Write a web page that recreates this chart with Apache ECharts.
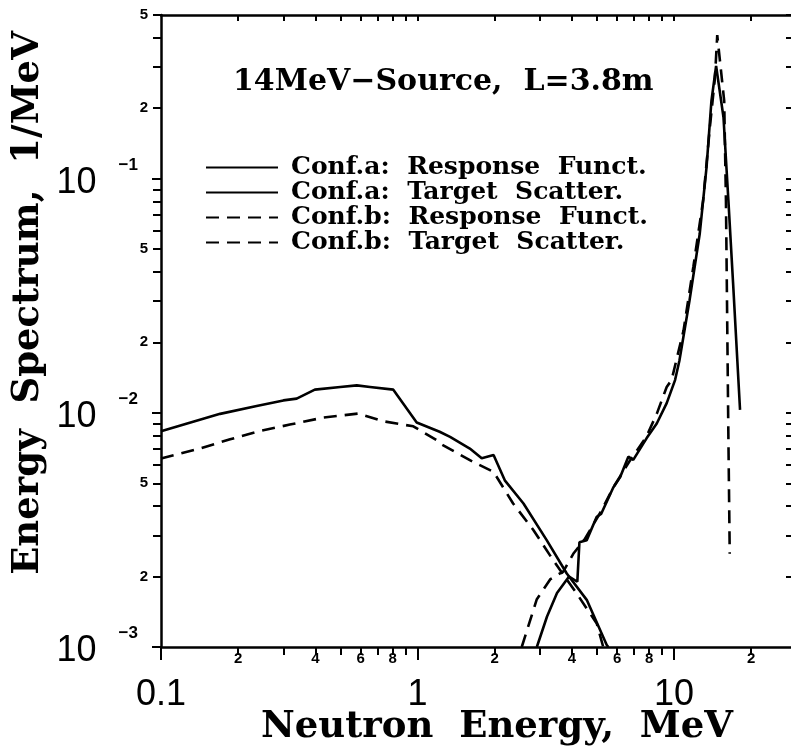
<!DOCTYPE html>
<html>
<head>
<meta charset="utf-8">
<style>
  html, body { margin: 0; padding: 0; background: #fff; }
  #chart { width: 791px; height: 753px; }
</style>
<script src="https://cdn.jsdelivr.net/npm/echarts@6/dist/echarts.min.js"></script>
</head>
<body>
<div id="chart"></div>
<script>
// [energy MeV, spectrum 1/MeV]
const respA = [
  [0.1, 0.00834], [0.17, 0.0099], [0.236, 0.0107], [0.30, 0.0113], [0.338, 0.0115],
  [0.398, 0.01256], [0.5, 0.0129], [0.58, 0.0131], [0.653, 0.0129], [0.805, 0.01256],
  [0.993, 0.0091], [1.22, 0.0083], [1.34, 0.0079], [1.6, 0.00704], [1.78, 0.0064],
  [1.98, 0.0066], [2.19, 0.00515], [2.59, 0.0041], [3.19, 0.00286], [3.82, 0.00206],
  [4.57, 0.00159], [5.47, 0.00102], [5.55, 0.001]
];
const scatA = [
  [2.92, 0.001], [3.2, 0.00135], [3.5, 0.0017], [3.9, 0.002], [4.2, 0.0019],
  [4.28, 0.0028], [4.57, 0.00286], [5.0, 0.0036], [5.2, 0.0037], [5.8, 0.0048],
  [6.16, 0.0053], [6.64, 0.0065], [6.94, 0.0063], [7.83, 0.0078], [8.57, 0.009],
  [9.37, 0.011], [10.1, 0.0138], [10.5, 0.0167], [11.5, 0.0302], [12.6, 0.058],
  [13.4, 0.112], [14.0, 0.215], [14.6, 0.303], [15.6, 0.183], [16.3, 0.081],
  [17.0, 0.036], [18.1, 0.0103]
];
const respB = [
  [0.1, 0.00638], [0.142, 0.00704], [0.186, 0.00771], [0.243, 0.00836], [0.318, 0.00891],
  [0.429, 0.00954], [0.588, 0.00993], [0.736, 0.0092], [0.963, 0.00876], [1.19, 0.00763],
  [1.22, 0.0074], [1.65, 0.00617], [1.98, 0.0056], [2.36, 0.0041], [2.83, 0.00316],
  [3.38, 0.00235], [4.18, 0.00169], [5.0, 0.00126], [5.3, 0.001]
];
const scatB = [
  [2.55, 0.001], [2.92, 0.0016], [3.3, 0.00195], [3.7, 0.0021], [4.05, 0.0025],
  [4.5, 0.0029], [5.2, 0.0038], [5.8, 0.0048], [6.7, 0.0062], [7.8, 0.0079],
  [8.57, 0.0099], [9.37, 0.0129], [9.79, 0.0138], [10.9, 0.0225], [11.9, 0.042],
  [13.0, 0.081], [13.8, 0.165], [14.45, 0.27], [14.75, 0.41], [15.7, 0.215],
  [15.95, 0.08], [16.1, 0.03], [16.3, 0.008], [16.5, 0.0025]
];

const names = [
  'Conf.a:  Response  Funct.',
  'Conf.a:  Target  Scatter.',
  'Conf.b:  Response  Funct.',
  'Conf.b:  Target  Scatter.'
];

const X_MINOR = [0.2, 0.3, 0.4, 0.5, 0.6, 0.7, 0.8, 0.9, 2, 3, 4, 5, 6, 7, 8, 9, 20];
const X_MAJOR = [0.1, 1, 10];
const X_SMALL_LABELS = [0.2, 0.4, 0.6, 0.8, 2, 4, 6, 8, 20];
const Y_MINOR = [0.002, 0.003, 0.004, 0.005, 0.006, 0.007, 0.008, 0.009,
  0.02, 0.03, 0.04, 0.05, 0.06, 0.07, 0.08, 0.09, 0.2, 0.3, 0.4, 0.5];
const Y_MAJOR = [0.001, 0.01, 0.1];
const Y_SMALL_LABELS = [0.002, 0.005, 0.02, 0.05, 0.2, 0.5];

const SERIF = '"DejaVu Serif", serif';
const SANS = '"Liberation Sans", Arial, sans-serif';
const INK = '#000';

// leading digit of a log tick (2, 5, ...)
const mantissa = (v) => String(Math.round(v / Math.pow(10, Math.floor(Math.log10(v) + 1e-9))));

function xAx(extra) {
  return Object.assign({
    type: 'log', min: 0.1, max: 28.6, gridIndex: 0,
    splitLine: { show: false }, minorTick: { show: false },
    axisLine: { show: false }, axisTick: { show: false }, axisLabel: { show: false }
  }, extra);
}
function yAx(extra) {
  return Object.assign({
    type: 'log', min: 0.001, max: 0.5, gridIndex: 0,
    splitLine: { show: false }, minorTick: { show: false },
    axisLine: { show: false }, axisTick: { show: false }, axisLabel: { show: false }
  }, extra);
}

const chart = echarts.init(document.getElementById('chart'), null, { renderer: 'canvas' });

const lineOf = (name, data, dashed) => ({
  name, type: 'line', data,
  xAxisIndex: 0, yAxisIndex: 0,
  symbol: 'none', showSymbol: false,
  lineStyle: { color: INK, width: 2.6, type: dashed ? [13, 8] : 'solid' },
  itemStyle: { color: INK },
  emphasis: { disabled: true },
  z: 3
});

chart.setOption({
  animation: false,
  backgroundColor: '#fff',
  grid: { left: 161, right: 0, top: 15, bottom: 106 },
  title: {
    text: '14MeV\u2212Source,  L=3.8m',
    left: 228, top: 62,
    textStyle: { fontFamily: SERIF, fontWeight: 'bold', fontSize: 30, color: INK }
  },
  legend: {
    orient: 'vertical', left: 200, top: 150,
    itemWidth: 72, itemHeight: 14, itemGap: 0,
    data: names,
    itemStyle: { opacity: 0 },
    textStyle: {
      fontFamily: SERIF, fontWeight: 'bold', fontSize: 25, color: INK,
      lineHeight: 24, padding: [0, 0, 0, 8]
    }
  },
  graphic: [
    {
      type: 'text', x: 497, y: 727,
      style: {
        text: 'Neutron  Energy,  MeV', fill: INK,
        font: 'bold 37px ' + SERIF, align: 'center', verticalAlign: 'middle'
      }
    },
    {
      type: 'text', x: 28, y: 303, rotation: Math.PI / 2,
      style: {
        text: 'Energy  Spectrum,  1/MeV', fill: INK,
        font: 'bold 37px ' + SERIF, align: 'center', verticalAlign: 'middle'
      }
    }
  ],
  xAxis: [
    xAx({
      position: 'bottom',
      axisLine: { show: true, lineStyle: { color: INK, width: 2.5 } },
      axisTick: { show: true, customValues: X_MINOR, length: 8, lineStyle: { color: INK, width: 2 } },
      axisLabel: {
        show: true, customValues: X_SMALL_LABELS, margin: 4, formatter: mantissa,
        fontFamily: SANS, fontWeight: 'bold', fontSize: 15, color: INK
      }
    }),
    xAx({
      position: 'bottom',
      axisTick: { show: true, customValues: X_MAJOR, length: 13, lineStyle: { color: INK, width: 2 } },
      axisLabel: {
        show: true, customValues: X_MAJOR, margin: 30,
        formatter: (v) => String(v),
        fontFamily: SANS, fontSize: 36, color: INK
      }
    }),
    xAx({
      position: 'top',
      axisLine: { show: true, lineStyle: { color: INK, width: 2.5 } },
      axisTick: { show: true, inside: true, customValues: X_MINOR.concat([1, 10]), length: 6, lineStyle: { color: INK, width: 2 } }
    })
  ],
  yAxis: [
    yAx({
      position: 'left',
      axisLine: { show: true, lineStyle: { color: INK, width: 2.5 } },
      axisTick: { show: true, customValues: Y_MINOR, length: 8, lineStyle: { color: INK, width: 2 } },
      axisLabel: {
        show: true, customValues: Y_SMALL_LABELS, margin: 13, formatter: mantissa,
        fontFamily: SANS, fontWeight: 'bold', fontSize: 15, color: INK
      }
    }),
    yAx({
      position: 'left',
      axisTick: { show: true, customValues: Y_MAJOR, length: 9, lineStyle: { color: INK, width: 2 } },
      axisLabel: {
        show: true, customValues: Y_MAJOR, margin: 23,
        formatter: (v) => '{b|10}{e|\u2212' + Math.round(-Math.log10(v)) + '}',
        rich: {
          b: { fontFamily: SANS, fontSize: 36, lineHeight: 44, color: INK, padding: [8, 0, 0, 0] },
          e: { fontFamily: SANS, fontWeight: 'bold', fontSize: 17, color: INK, verticalAlign: 'top', padding: [0, 0, 0, 22] }
        }
      }
    }),
    yAx({
      position: 'right',
      axisTick: { show: true, inside: true, customValues: Y_MINOR.concat([0.01, 0.1]), length: 5, lineStyle: { color: INK, width: 2 } }
    })
  ],
  series: [
    lineOf(names[0], respA, false),
    lineOf(names[1], scatA, false),
    lineOf(names[2], respB, true),
    lineOf(names[3], scatB, true)
  ]
});
</script>
</body>
</html>
